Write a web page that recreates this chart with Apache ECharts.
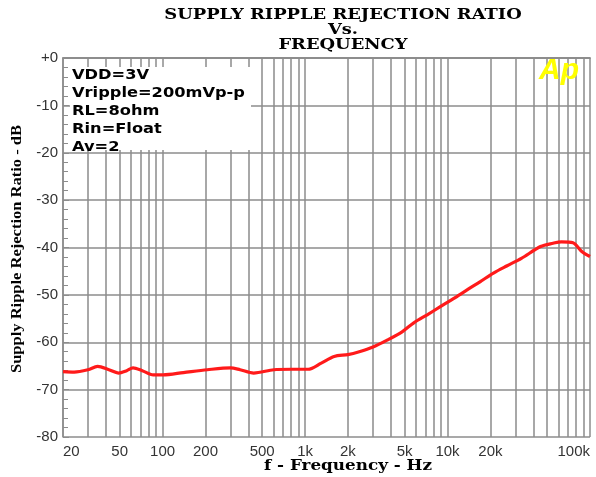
<!DOCTYPE html>
<html lang="en">
<head>
	<meta charset="UTF-8">
	<title>Supply Ripple Rejection Ratio vs. Frequency</title>
	<style>
		html, body { margin: 0; padding: 0; background: #fff; }
	</style>
</head>
<body>
<div id="chart" style="width:596px;height:477px;"></div>
<script src="https://cdn.jsdelivr.net/npm/echarts@6/dist/echarts.min.js"></script>
<script>
	var freq = [20, 24, 30, 35, 42, 49, 56, 62, 72, 86, 101, 140, 206, 300, 350, 436, 604, 800, 1050, 1300, 1600, 2000, 2400, 3000, 3800, 4800, 5800, 7200, 8900, 11000, 13800, 17000, 21000, 26000, 33000, 45000, 55000, 63000, 76000, 88000, 100000];
	var psrr = [-66.2, -66.3, -65.8, -65.1, -65.8, -66.5, -66.0, -65.4, -66.0, -66.9, -66.9, -66.4, -65.8, -65.4, -65.8, -66.5, -65.8, -65.7, -65.7, -64.4, -63.0, -62.6, -62.0, -61.0, -59.5, -57.8, -55.9, -54.2, -52.5, -50.8, -48.9, -47.2, -45.4, -43.9, -42.3, -39.8, -39.1, -38.8, -39.0, -40.9, -41.9];

	// x tick labels
	var xLabels = [20, 50, 100, 200, 500, 1000, 2000, 5000, 10000, 20000, 100000];
	var notes = ['VDD=3V', 'Vripple=200mVp-p', 'RL=8ohm', 'Rin=Float', 'Av=2'];

	var data = [];
	for (var i = 0; i < freq.length; i++) {
		data.push([freq[i], psrr[i]]);
	}

	function fmtHz(v) {
		v = Math.round(v);
		return v >= 1000 ? (v / 1000) + 'k' : String(v);
	}

	var gridColor = '#8c8c8c';
	var myChart = echarts.init(document.getElementById('chart'));

	var option = {
		backgroundColor: '#fff',
		animation: false,
		grid: { left: 63, right: 6, top: 58, bottom: 40 },
		xAxis: [{
			type: 'log',
			logBase: 10,
			min: 20,
			max: 100000,
			position: 'bottom',
			axisLine: { show: true, lineStyle: { color: gridColor, width: 1.5 } },
			axisTick: { show: false },
			minorTick: { show: false, splitNumber: 9 },
			splitLine: { show: true, lineStyle: { color: gridColor, width: 1.5 } },
			minorSplitLine: { show: true, lineStyle: { color: gridColor, width: 1.5 } },
			axisLabel: {
				customValues: xLabels,
				formatter: fmtHz,
				color: '#333',
				fontFamily: 'Liberation Sans',
				fontSize: 15,
				margin: 7,
				alignMinLabel: 'left',
				alignMaxLabel: 'right'
			}
		}, {
			type: 'log',
			logBase: 10,
			min: 20,
			max: 100000,
			position: 'top',
			z: 20,
			axisLine: { show: true, lineStyle: { color: gridColor, width: 1.5 } },
			axisTick: { show: false },
			splitLine: { show: false },
			axisLabel: { show: false }
		}],
		yAxis: {
			type: 'value',
			min: -80,
			max: 0,
			interval: 10,
			axisLine: { show: true, lineStyle: { color: gridColor, width: 1.5 } },
			axisTick: { show: true, inside: true, length: 6, lineStyle: { color: gridColor } },
			minorTick: { show: true, splitNumber: 5, length: 5, lineStyle: { color: gridColor } },
			splitLine: { show: true, lineStyle: { color: gridColor, width: 1.5 } },
			axisLabel: {
				formatter: function (v) { return v === 0 ? '+0' : String(v); },
				color: '#333',
				fontFamily: 'Liberation Sans',
				fontSize: 15,
				margin: 5
			}
		},
		graphic: [
			{ type: 'rect', left: 70, top: 67, z: 10, shape: { width: 181, height: 83 }, style: { fill: '#fff' } },
			{
				type: 'text', x: 72, y: 66, z: 11, scaleX: 1.16,
				style: {
					text: notes.join('\n'),
					font: 'bold 14px "DejaVu Sans"',
					lineHeight: 18,
					fill: '#000'
				}
			},
			{
				type: 'text', x: 539, y: 56, z: 11,
				style: { text: 'Ap', font: 'italic bold 30px "Liberation Sans"', fill: '#ffff00' }
			},
			{
				type: 'text', x: 343, y: 8, z: 11, scaleX: 1.19,
				style: {
					text: 'SUPPLY RIPPLE REJECTION RATIO\nVs.\nFREQUENCY',
					font: 'bold 15px "DejaVu Serif"',
					align: 'center',
					lineHeight: 15,
					fill: '#000'
				}
			},
			{
				type: 'text', x: 348, y: 459, z: 11, scaleX: 1.2,
				style: {
					text: 'f - Frequency - Hz',
					font: 'bold 14px "DejaVu Serif"',
					align: 'center',
					fill: '#000'
				}
			},
			{
				type: 'text', x: 17, y: 249, rotation: Math.PI / 2, z: 11, scaleX: 1.1,
				style: {
					text: 'Supply Ripple Rejection Ratio - dB',
					font: 'bold 15px "Liberation Serif"',
					align: 'center',
					verticalAlign: 'middle',
					fill: '#000'
				}
			}
		],
		series: [{
			name: 'PSRR',
			type: 'line',
			xAxisIndex: 0,
			data: data,
			symbol: 'none',
			smooth: 0.3,
			z: 5,
			lineStyle: { color: '#ff1a1a', width: 3.2 }
		}]
	};

	myChart.setOption(option);
</script>
</body>
</html>
